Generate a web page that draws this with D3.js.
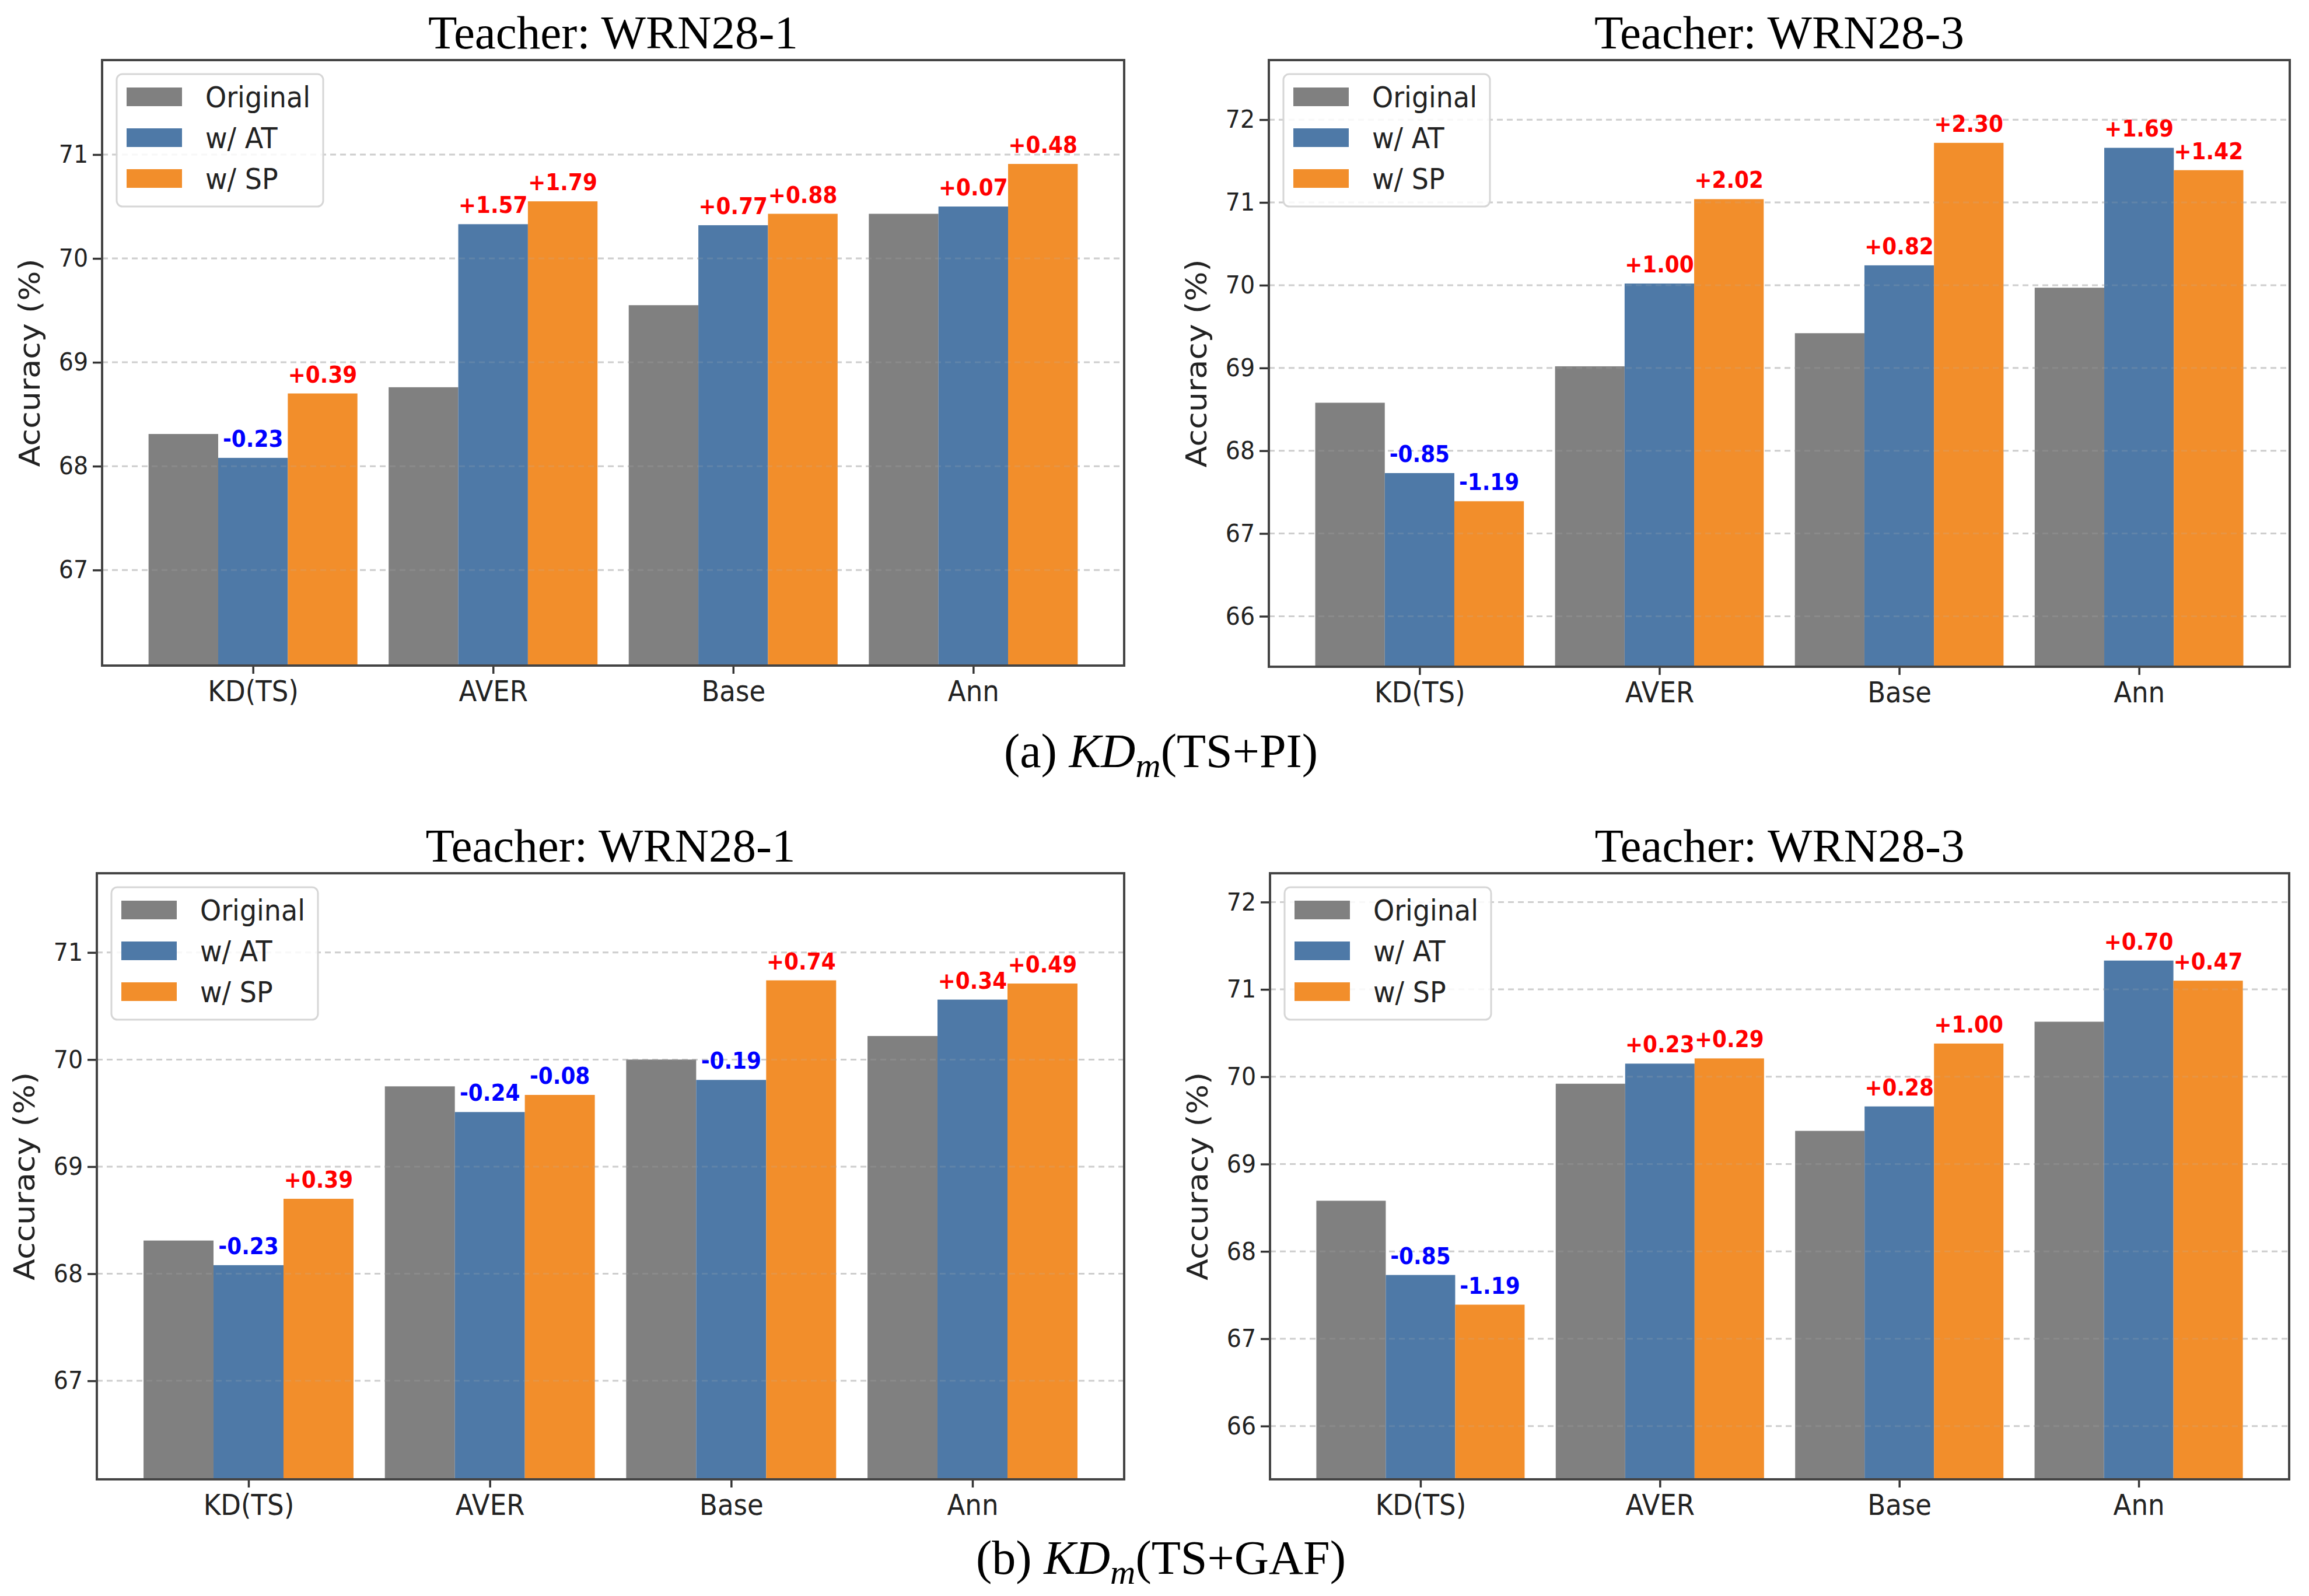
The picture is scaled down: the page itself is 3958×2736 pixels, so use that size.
<!DOCTYPE html>
<html>
<head>
<meta charset="utf-8">
<script src="https://cdn.jsdelivr.net/npm/d3@7"></script>
<style>
  body { margin: 0; background: #fff; }
  svg { display: block; }
</style>
</head>
<body>
<svg id="fig"></svg>
<script>
// categories + series
const categories = ['KD(TS)', 'AVER', 'Base', 'Ann']
const seriesNames = ['Original', 'w/ AT', 'w/ SP']
const colors = ['#808080', '#4e79a7', '#f28e2b']

// (a) TS+PI
const pi1Orig = [68.31, 68.76, 69.55, 70.43]
const pi1AT   = [68.08, 70.33, 70.32, 70.50]
const pi1SP   = [68.70, 70.55, 70.43, 70.91]
const pi3Orig = [68.58, 69.02, 69.42, 69.97]
const pi3AT   = [67.73, 70.02, 70.24, 71.66]
const pi3SP   = [67.39, 71.04, 71.72, 71.39]
// (b) TS+GAF
const gaf1Orig = [68.31, 69.75, 70.00, 70.22]
const gaf1AT   = [68.08, 69.51, 69.81, 70.56]
const gaf1SP   = [68.70, 69.67, 70.74, 70.71]
const gaf3Orig = [68.58, 69.92, 69.38, 70.63]
const gaf3AT   = [67.73, 70.15, 69.66, 71.33]
const gaf3SP   = [67.39, 70.21, 70.38, 71.10]

const ticks1 = [67, 68, 69, 70, 71]
const ticks3 = [66, 67, 68, 69, 70, 71, 72]

const W = 3958, H = 2736
const SQ = 0.92 // text in the picture is slightly condensed

const svg = d3.select('#fig').attr('width', W).attr('height', H)

const panels = [
    {title: 'Teacher: WRN28-1', data: [pi1Orig, pi1AT, pi1SP], ticks: ticks1, box: [175, 1927, 103, 1141]},
    {title: 'Teacher: WRN28-3', data: [pi3Orig, pi3AT, pi3SP], ticks: ticks3, box: [2175, 3925, 103, 1143]},
    {title: 'Teacher: WRN28-1', data: [gaf1Orig, gaf1AT, gaf1SP], ticks: ticks1, box: [166, 1927, 1497, 2536]},
    {title: 'Teacher: WRN28-3', data: [gaf3Orig, gaf3AT, gaf3SP], ticks: ticks3, box: [2177, 3924, 1497, 2536]}
]

const barW = 0.29
const sans = 'DejaVu Sans, sans-serif'
const serif = 'Liberation Serif, Times New Roman, serif'

function drawPanel(p){
    const [x0, x1, y0, y1] = p.box
    const g = svg.append('g')

    // matplotlib style limits: bars span +-1.5 width, 5% margin
    const lo = -1.5 * barW, hi = categories.length - 1 + 1.5 * barW
    const m = (hi - lo) * 0.05
    const xScale = d3.scaleLinear().domain([lo - m, hi + m]).range([x0, x1])

    const all = p.data.flat()
    const yScale = d3.scaleLinear()
        .domain([d3.min(all) - 2, d3.max(all) + 1])
        .range([y1, y0])

    const grid = (cls, op) => g.selectAll('.' + cls)
        .data(p.ticks)
        .join('line')
        .attr('class', cls)
        .attr('x1', x0).attr('x2', x1)
        .attr('y1', yScale).attr('y2', yScale)
        .attr('stroke', '#b8b8b8')
        .attr('stroke-opacity', op)
        .attr('stroke-width', 3)
        .attr('stroke-dasharray', '10,7')

    grid('gridBack', 0.6)

    // bars
    p.data.forEach((vals, s) => {
        g.selectAll('.bar' + s)
            .data(vals)
            .join('rect')
            .attr('class', 'bar' + s)
            .attr('x', (v, i) => xScale(i + (s - 1) * barW - barW / 2))
            .attr('width', xScale(barW) - xScale(0))
            .attr('y', v => yScale(v))
            .attr('height', v => y1 - yScale(v))
            .attr('fill', colors[s])
    })

    // faint grid showing through the bars
    grid('gridFront', 0.18)

    // delta labels over AT and SP bars
    const orig = p.data[0]
    for (let s = 1; s < 3; s++){
        g.selectAll('.lab' + s)
            .data(p.data[s])
            .join('text')
            .attr('class', 'lab' + s)
            .attr('transform', (v, i) => `translate(${xScale(i + (s - 1) * barW)},${yScale(v) - 19}) scale(${SQ},1)`)
            .attr('text-anchor', 'middle')
            .attr('font-family', sans)
            .attr('font-weight', 'bold')
            .attr('font-size', 39)
            .attr('fill', (v, i) => v - orig[i] >= 0 ? '#ff0000' : '#0000ff')
            .text((v, i) => {
                const d = v - orig[i]
                return (d >= 0 ? '+' : '-') + Math.abs(d).toFixed(2)
            })
    }

    // y axis
    const yAxis = d3.axisLeft(yScale).tickValues(p.ticks).tickSize(16).tickPadding(10).tickFormat(d3.format('d'))
    const ya = g.append('g').attr('transform', `translate(${x0},0)`).call(yAxis)
    ya.select('.domain').remove()
    ya.selectAll('line').attr('stroke', '#333').attr('stroke-width', 3.5)
    ya.selectAll('text')
        .attr('font-family', sans).attr('font-size', 43).attr('fill', '#222')
        .attr('transform', `scale(${SQ},1)`)

    // x axis
    const xAxis = d3.axisBottom(xScale).tickValues(d3.range(categories.length)).tickSize(14).tickPadding(12)
        .tickFormat(i => categories[i])
    const xa = g.append('g').attr('transform', `translate(0,${y1})`).call(xAxis)
    xa.select('.domain').remove()
    xa.selectAll('line').attr('stroke', '#333').attr('stroke-width', 3.5)
    xa.selectAll('text')
        .attr('font-family', sans).attr('font-size', 49).attr('fill', '#222')
        .attr('transform', `scale(${SQ},1)`)

    // frame
    g.append('rect')
        .attr('x', x0).attr('y', y0)
        .attr('width', x1 - x0).attr('height', y1 - y0)
        .attr('fill', 'none').attr('stroke', '#444').attr('stroke-width', 4)

    // y label
    g.append('text')
        .attr('transform', `translate(${x0 - 124},${(y0 + y1) / 2}) rotate(-90) scale(1,${SQ})`)
        .attr('text-anchor', 'middle')
        .attr('dominant-baseline', 'central')
        .attr('font-family', sans).attr('font-size', 54).attr('fill', '#222')
        .text('Accuracy (%)')

    // title
    g.append('text')
        .attr('x', (x0 + x1) / 2).attr('y', y0 - 20)
        .attr('text-anchor', 'middle')
        .attr('font-family', serif).attr('font-size', 81).attr('fill', '#000')
        .text(p.title)

    // legend
    const lx = x0 + 25, ly = y0 + 24
    const leg = g.append('g').attr('transform', `translate(${lx},${ly})`)
    leg.append('rect')
        .attr('width', 354).attr('height', 227).attr('rx', 10)
        .attr('fill', '#fff').attr('fill-opacity', 0.85)
        .attr('stroke', '#d6d6d6').attr('stroke-width', 3)
    seriesNames.forEach((name, s) => {
        const cy = 39 + s * 70
        leg.append('rect')
            .attr('x', 17).attr('y', cy - 16)
            .attr('width', 95).attr('height', 32)
            .attr('fill', colors[s])
        leg.append('text')
            .attr('transform', `translate(152,${cy + 18}) scale(${SQ},1)`)
            .attr('font-family', sans).attr('font-size', 50).attr('fill', '#222')
            .text(name)
    })
}

panels.forEach(drawPanel)

// sub-captions
function caption(letter, rest, y){
    const t = svg.append('text')
        .attr('x', 1990).attr('y', y)
        .attr('text-anchor', 'middle')
        .attr('font-family', serif).attr('font-size', 82).attr('fill', '#000')
    t.append('tspan').text('(' + letter + ') ')
    t.append('tspan').attr('font-style', 'italic').text('KD')
    t.append('tspan').attr('font-style', 'italic').attr('font-size', 60).attr('dy', 17).text('m')
    t.append('tspan').attr('dy', -17).text('(' + rest + ')')
}
caption('a', 'TS+PI', 1315)
caption('b', 'TS+GAF', 2698)
</script>
</body>
</html>
